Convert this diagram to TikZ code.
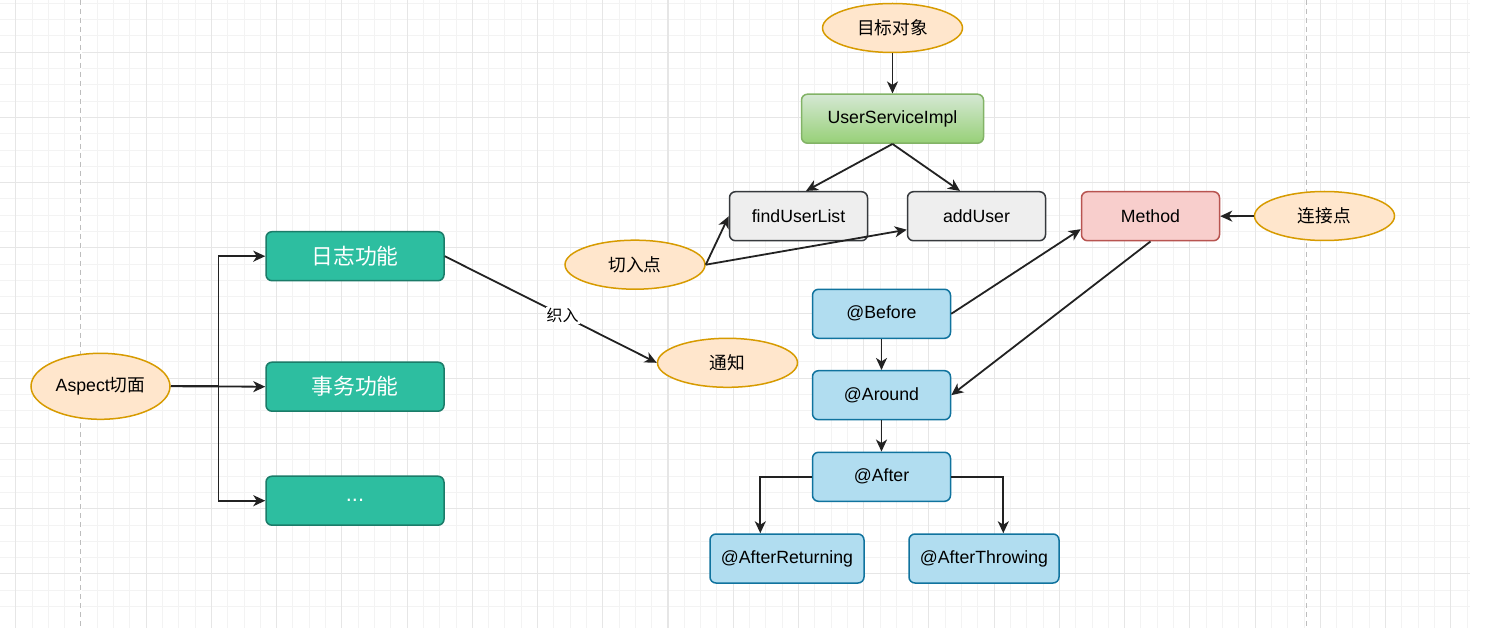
\documentclass[tikz,border=0pt]{standalone}
\usepackage{fontspec}
\setmainfont{Liberation Sans}
\newfontfamily\cjk{Noto Sans CJK SC}
\usetikzlibrary{shapes.geometric,arrows.meta,calc}
\definecolor{gridminor}{HTML}{F3F3F3}
\definecolor{gridmajor}{HTML}{E6E6E6}
\definecolor{pagebrk}{HTML}{BDBDBD}
\definecolor{orfill}{HTML}{FFE6CC}
\definecolor{ordraw}{HTML}{D79B00}
\definecolor{tealfill}{HTML}{2DBEA0}
\definecolor{tealdraw}{HTML}{1B7C69}
\definecolor{grtop}{HTML}{D5E8D4}
\definecolor{grbot}{HTML}{97D077}
\definecolor{grdraw}{HTML}{82B366}
\definecolor{blfill}{HTML}{B1DDF0}
\definecolor{bldraw}{HTML}{10739E}
\definecolor{rdfill}{HTML}{F8CECC}
\definecolor{rddraw}{HTML}{B85450}
\definecolor{gyfill}{HTML}{EEEEEE}
\definecolor{gydraw}{HTML}{36393D}
\definecolor{edge}{HTML}{222222}
\tikzset{
  txt/.style={font=\fontsize{17.7}{20}\selectfont, text=black},
  oval/.style={txt, ellipse, fill=orfill, draw=ordraw, line width=1.5pt, minimum width=140pt, minimum height=49pt, inner sep=0pt},
  boxbase/.style={txt, rectangle, rounded corners=6pt, line width=1.5pt, minimum height=49pt, minimum width=138pt, inner sep=0pt},
  tealbox/.style={boxbase, fill=tealfill, draw=tealdraw, minimum width=178pt, text=white, font=\fontsize{21.8}{24}\selectfont},
  greenbox/.style={boxbase, top color=grtop, bottom color=grbot, draw=grdraw, minimum width=182pt},
  bluebox/.style={boxbase, fill=blfill, draw=bldraw},
  redbox/.style={boxbase, fill=rdfill, draw=rddraw},
  graybox/.style={boxbase, fill=gyfill, draw=gydraw},
  arr/.style={draw=edge, line width=1.8pt, -{Stealth[length=12pt,width=11pt,inset=3.5pt]}},
  lbl/.style={font=\fontsize{16}{18}\selectfont, fill=white, inner sep=1pt, text=black}
}
\begin{document}
\begin{tikzpicture}[x=1pt,y=-1pt]
\useasboundingbox (0,0) rectangle (1492,628);
\fill[white] (0,0) rectangle (1492,628);
% grid
\foreach \i in {-1,...,89} {
  \pgfmathsetmacro\xx{15.7+16.3075*\i}
  \draw[gridminor, line width=1pt] (\xx,0) -- (\xx,628);
}
\foreach \j in {1,...,38} {
  \pgfmathsetmacro\yy{-12.9+16.3*\j}
  \draw[gridminor, line width=1pt] (0,\yy) -- (1470,\yy);
}
\foreach \i in {0,...,22} {
  \pgfmathsetmacro\xx{15.7+65.23*\i}
  \draw[gridmajor, line width=1.1pt] (\xx,0) -- (\xx,628);
}
\foreach \k in {1,...,9} {
  \pgfmathsetmacro\yy{-12.9+65.2*\k}
  \draw[gridmajor, line width=1.1pt] (0,\yy) -- (1470,\yy);
}
\draw[white, line width=1.6pt] (80.7,0) -- (80.7,628);
\draw[pagebrk, line width=1pt, dash pattern=on 5pt off 4pt] (80.7,0) -- (80.7,628);
\draw[pagebrk, line width=1pt, dash pattern=on 5pt off 4pt] (1306,0) -- (1306,628);

% nodes
\node[oval] (goal) at (892.5,28) {\cjk 目标对象};
\node[greenbox] (usi) at (892.5,118.7) {UserServiceImpl};
\node[graybox] (ful) at (798.5,216.2) {findUserList};
\node[graybox] (add) at (976.5,216.2) {addUser};
\node[redbox] (method) at (1150.5,216.2) {Method};
\node[oval] (conn) at (1324.5,216) {\cjk 连接点};
\node[oval] (cut) at (635,264.7) {\cjk 切入点};
\node[tealbox] (log) at (355,256.2) {\cjk 日志功能};
\node[tealbox] (tx) at (355,386.7) {\cjk 事务功能};
\node[tealbox] (etc) at (355,500.7) {...};
\node[oval, minimum width=139pt, minimum height=66pt] (asp) at (100.5,386.3) {Aspect{\cjk 切面}};
\node[oval] (notice) at (727.5,362.8) {\cjk 通知};
\node[bluebox] (before) at (881.5,313.8) {@Before};
\node[bluebox] (around) at (881.5,395.2) {@Around};
\node[bluebox] (after) at (881.5,476.8) {@After};
\node[bluebox, minimum width=154pt] (ret) at (787,558.5) {@AfterReturning};
\node[bluebox, minimum width=150pt] (thr) at (984,558.5) {@AfterThrowing};

% connectors
\draw[arr] (goal.south) -- (usi.north);
\draw[arr] (usi.south) -- ([xshift=7.5pt]ful.north);
\draw[arr] (usi.south) -- ([xshift=-16.5pt]add.north);
\draw[arr] (cut.east) -- (ful.west);
\draw[arr] (cut.east) -- ([yshift=-13.5pt]add.west);
\draw[arr] (conn.west) -- (method.east);
\draw[arr] (before.east) -- ([yshift=-13pt]method.west);
\draw[arr] (method.south) -- (around.east);
\draw[arr] (before.south) -- (around.north);
\draw[arr] (around.south) -- (after.north);
\draw[arr] (after.west) -| ([xshift=-26.7pt]ret.north);
\draw[arr] (after.east) -| ([xshift=19.3pt]thr.north);
\draw[arr] (asp.east) -- (tx.west);
\draw[arr] (asp.east) -- ++(47.7,0) |- (log.west);
\draw[arr] (asp.east) -- ++(47.7,0) |- (etc.west);
\draw[arr] (log.east) -- node[lbl, pos=0.556] {\cjk 织入} (notice.west);
\end{tikzpicture}
\end{document}
